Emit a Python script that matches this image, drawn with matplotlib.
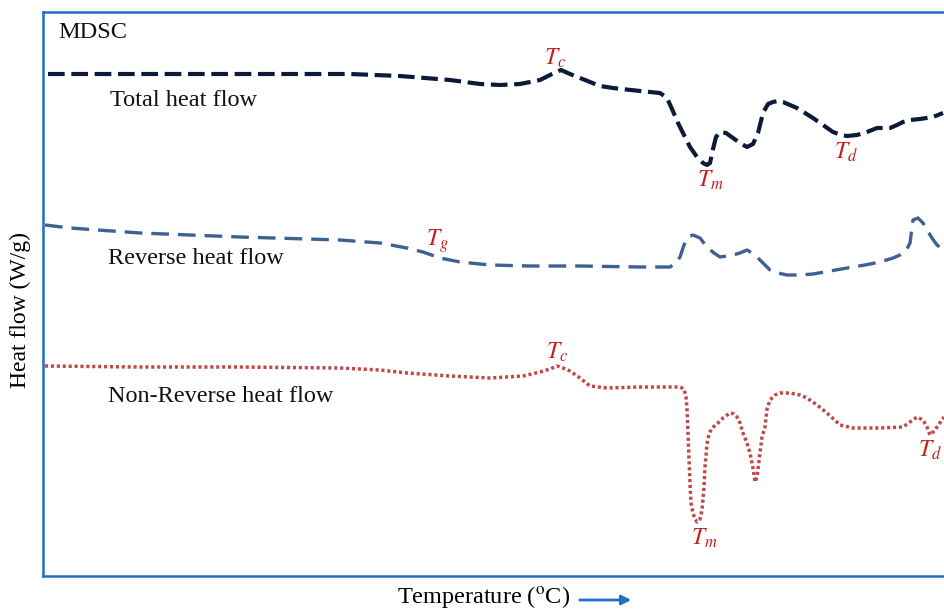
import matplotlib.pyplot as plt

# values (temperature and heat flow in arbitrary units)
total_t = [48, 100, 200, 300, 350, 400, 450, 480, 500, 520, 540, 552, 561, 570, 585, 600,
           613, 640, 660, 667, 672, 678, 683, 690, 697, 703, 707, 710, 713, 716, 720, 726,
           733, 740, 747, 753, 758, 763, 768, 773, 778, 783, 790, 797, 805, 813, 823, 833,
           841, 847, 857, 867, 877, 890, 897, 903, 910, 920, 933, 943]
total_hf = [535, 535, 535, 535, 535, 533, 529, 525, 524, 525, 529, 535, 539, 535, 529, 523,
            521, 518, 516, 511, 500, 486, 476, 462, 452, 446, 444, 446, 460, 472, 477, 476,
            471, 466, 462, 465, 476, 496, 505, 507, 508, 507, 504, 501, 496, 491, 484, 477,
            474, 473, 474, 477, 481, 481, 484, 487, 489, 490, 492, 496]

rev_t = [45, 70, 140, 240, 340, 380, 407, 423, 440, 460, 490, 530, 580, 640, 670, 676,
         680, 684, 688, 693, 700, 707, 714, 720, 727, 733, 740, 747, 752, 757, 763, 770,
         778, 787, 800, 813, 830, 847, 865, 880, 893, 900, 906, 910, 913, 918, 923, 927,
         932, 937, 944]
rev_hf = [384, 381, 376, 372, 369, 366, 361, 357, 351, 347, 344, 343, 343, 342, 342, 346,
          352, 364, 372, 374, 371, 362, 356, 352, 353, 354, 356, 359, 356, 352, 346, 339,
          336, 334, 334, 335, 338, 341, 344, 347, 351, 354, 358, 366, 389, 391, 386, 379,
          371, 364, 359]

nonrev_t = [45, 140, 240, 340, 380, 407, 450, 490, 523, 540, 550, 557, 563, 570, 580, 590,
            607, 640, 670, 680, 684, 686, 687, 688, 689, 690, 691, 693, 695, 697, 700, 702,
            704, 705, 707, 709, 712, 717, 723, 730, 734, 737, 740, 743, 747, 750, 753, 755,
            757, 760, 762, 765, 767, 770, 775, 780, 790, 800, 807, 817, 827, 840, 853, 880,
            903, 910, 917, 923, 927, 930, 934, 937, 944]
nonrev_hf = [243, 242, 242, 241, 239, 236, 233, 231, 233, 237, 240, 243, 241, 238, 231, 223,
             221, 222, 222, 222, 220, 212, 200, 176, 150, 126, 106, 96, 90, 87, 90, 99,
             122, 142, 165, 175, 181, 185, 191, 196, 195, 192, 186, 176, 166, 156, 141, 127,
             132, 156, 172, 182, 200, 209, 214, 216, 216, 214, 211, 204, 196, 184, 181, 181,
             182, 187, 192, 189, 182, 174, 178, 182, 192]

labels = [("MDSC", 58, 577), ("Total heat flow", 110, 508), ("Reverse heat flow", 108, 351),
          ("Non-Reverse heat flow", 108, 213)]
marks = [(r"$T_c$", 555, 551), (r"$T_m$", 710, 429), (r"$T_d$", 846, 457), (r"$T_g$", 437, 368),
         (r"$T_c$", 557, 257), (r"$T_m$", 704, 71), (r"$T_d$", 930, 159)]

plt.rcParams["font.family"] = ["Liberation Serif", "DejaVu Serif"]
plt.rcParams["mathtext.fontset"] = "stix"

fig = plt.figure(figsize=(9.44, 6.09), dpi=100)
ax = fig.add_axes([43 / 944, 33 / 609, 910 / 944, 564 / 609])
ax.set_xlim(43, 953)
ax.set_ylim(33, 597)

ax.plot(total_t, total_hf, color="#0b1a36", lw=3.0, dashes=(4.0, 1.6))
ax.plot(rev_t, rev_hf, color="#3d6190", lw=2.4, dashes=(5.3, 2.7))
ax.plot(nonrev_t, nonrev_hf, color="#bf4a4a", lw=2.5, dashes=(0.9, 0.8))

for txt, x, y in labels:
    ax.text(x, y, txt, fontsize=17.5, color="#111111", ha="left", va="center")
for txt, x, y in marks:
    ax.text(x, y, txt, fontsize=17, color="#c81e1e", ha="center", va="center")

for side in ["left", "top", "bottom"]:
    ax.spines[side].set_color("#1f6fc4")
    ax.spines[side].set_linewidth(1.8)
ax.spines["right"].set_visible(False)
ax.set_xticks([])
ax.set_yticks([])

fig.text(20 / 944, 1 - 310 / 609, "Heat flow (W/g)", rotation=90, fontsize=17,
         ha="center", va="center")
fig.text(484 / 944, 1 - 597 / 609, "Temperature ($^{\\mathrm{o}}$C)", fontsize=17.5,
         ha="center", va="center")
ax.annotate("", xy=(634 / 944, 1 - 600 / 609), xytext=(577 / 944, 1 - 600 / 609),
            xycoords="figure fraction",
            arrowprops=dict(arrowstyle="-|>", color="#1f6fc4", lw=2, mutation_scale=14),
            annotation_clip=False)

fig.savefig("out.png", dpi=100)
